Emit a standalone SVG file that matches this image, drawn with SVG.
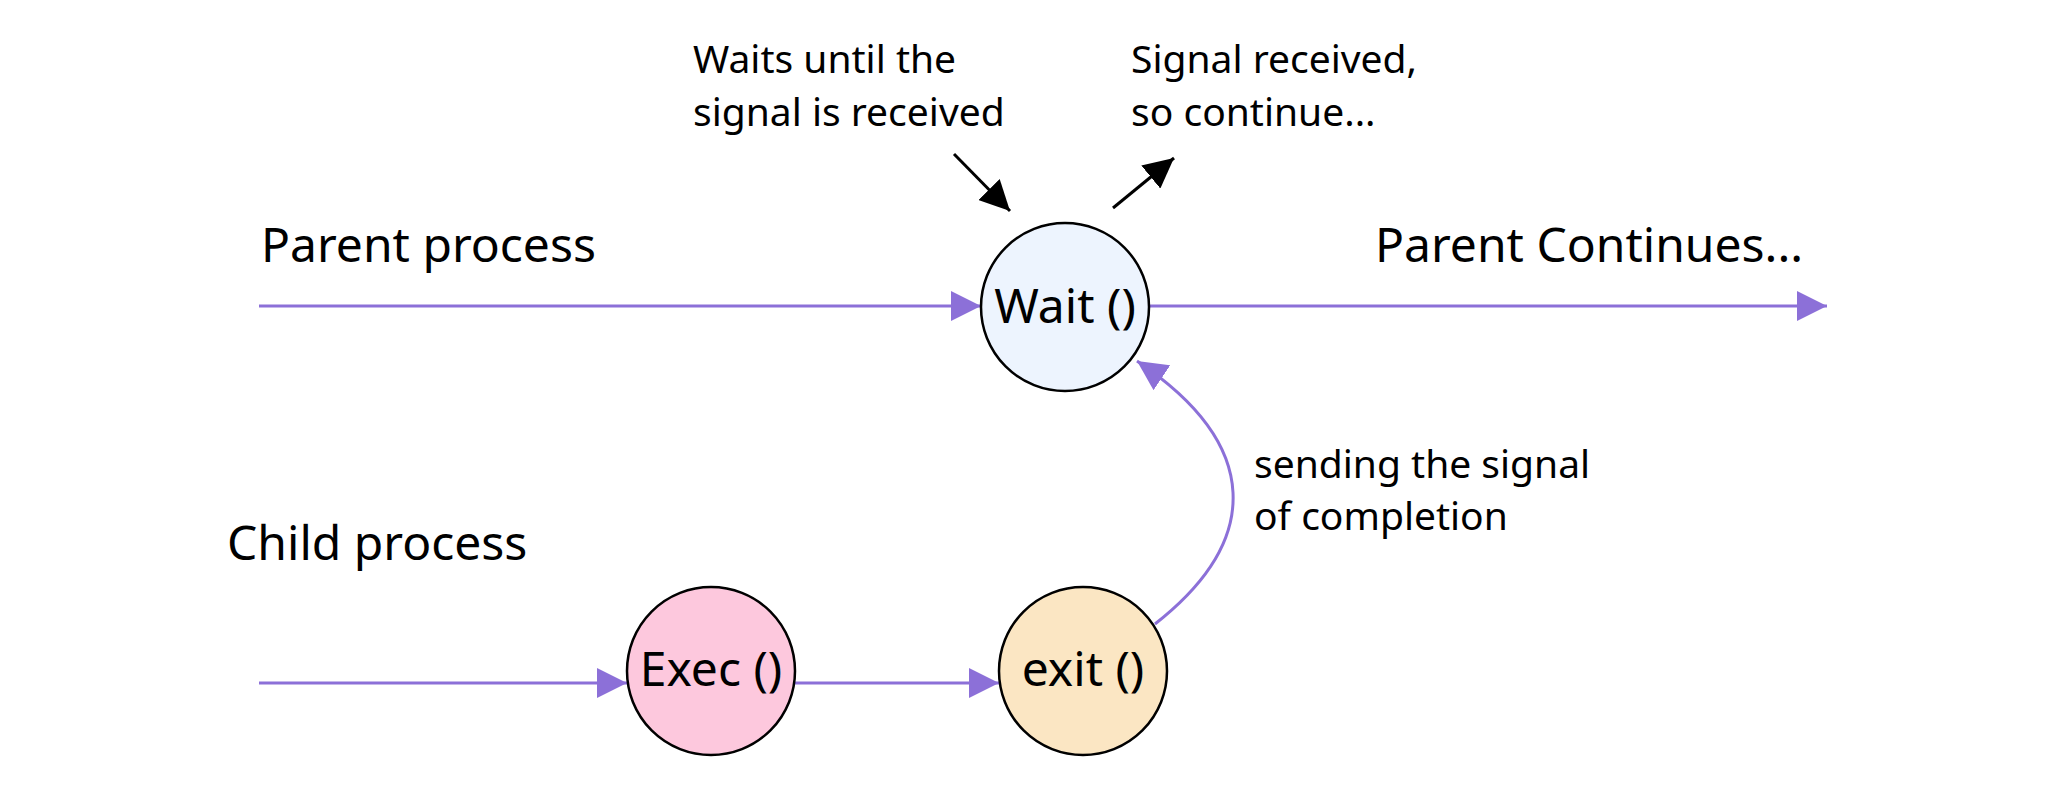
<svg xmlns="http://www.w3.org/2000/svg" width="2069" height="785" viewBox="0 0 2069 785">
<style>
  .bg { fill: #ffffff; }
  .node { stroke: #000000; stroke-width: 2.5; }
  .lbl { font-family: "Noto Sans", "Open Sans", sans-serif; fill: #000000; }
  .big { font-size: 48px; }
  .small { font-size: 39px; }
  .flow { fill: none; stroke: #8c70d8; stroke-width: 3; }
  .note { fill: none; stroke: #000000; stroke-width: 3; }
</style>
<defs>
  <marker id="purpleArrow" markerUnits="userSpaceOnUse" markerWidth="30" markerHeight="30" viewBox="0 0 28 28" refX="28" refY="14" orient="auto">
    <path d="M0,0 L28,14 L0,28 Z" fill="#8c70d8"/>
  </marker>
  <marker id="blackArrow" markerUnits="userSpaceOnUse" markerWidth="30" markerHeight="30" viewBox="0 0 28 28" refX="28" refY="14" orient="auto">
    <path d="M0,0 L28,14 L0,28 Z" fill="#000000"/>
  </marker>
</defs>
<rect class="bg" x="0" y="0" width="2069" height="785"/>

<g id="labels">
  <text class="lbl big" x="261" y="262">Parent process</text>
  <text class="lbl big" x="227" y="560">Child process</text>
  <text class="lbl big" x="1375" y="262">Parent Continues...</text>
  <text class="lbl small" x="693" y="73">Waits until the</text>
  <text class="lbl small" x="693" y="126">signal is received</text>
  <text class="lbl small" x="1131" y="73">Signal received,</text>
  <text class="lbl small" x="1131" y="126">so continue...</text>
  <text class="lbl small" x="1254" y="478">sending the signal</text>
  <text class="lbl small" x="1254" y="530">of completion</text>
</g>

<g id="connectors">
  <line class="flow" x1="259" y1="306" x2="981" y2="306" marker-end="url(#purpleArrow)"/>
  <line class="flow" x1="1149" y1="306" x2="1827" y2="306" marker-end="url(#purpleArrow)"/>
  <line class="flow" x1="259" y1="683" x2="627" y2="683" marker-end="url(#purpleArrow)"/>
  <line class="flow" x1="794" y1="683" x2="999" y2="683" marker-end="url(#purpleArrow)"/>
  <path class="flow" d="M1155,624 C1262,540 1262,445 1137,361" marker-end="url(#purpleArrow)"/>
  <line class="note" x1="954" y1="154" x2="1010" y2="211" marker-end="url(#blackArrow)"/>
  <line class="note" x1="1113" y1="208" x2="1174" y2="158" marker-end="url(#blackArrow)"/>
</g>

<g id="node-wait">
  <circle class="node" cx="1065" cy="307" r="84" fill="#edf4fe"/>
  <text class="lbl big" x="1065" y="323" text-anchor="middle">Wait ()</text>
</g>
<g id="node-exec">
  <circle class="node" cx="711" cy="671" r="84" fill="#fdc8dd"/>
  <text class="lbl big" x="711" y="686" text-anchor="middle">Exec ()</text>
</g>
<g id="node-exit">
  <circle class="node" cx="1083" cy="671" r="84" fill="#fbe6c3"/>
  <text class="lbl big" x="1083" y="686" text-anchor="middle">exit ()</text>
</g>
</svg>
